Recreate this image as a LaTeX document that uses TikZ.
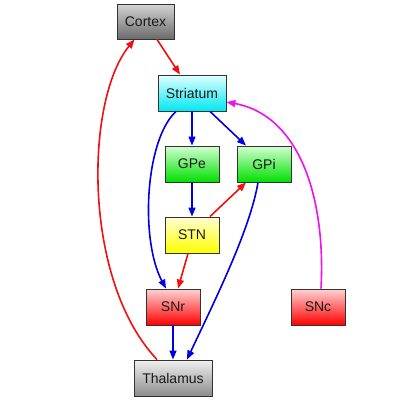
\documentclass[tikz,border=0pt]{standalone}
\usepackage{fontspec}
\setmainfont{Liberation Sans}
\usetikzlibrary{arrows.meta,calc}
\definecolor{edgered}{HTML}{F01010}
\definecolor{edgeblue}{HTML}{0000E0}
\definecolor{edgemag}{HTML}{F010F0}
\definecolor{boxline}{HTML}{333333}
\begin{document}
\begin{tikzpicture}[x=1pt,y=-1pt,
  box/.style={draw=boxline,line width=0.9pt,inner sep=0pt,minimum height=36pt,minimum width=54pt,font=\fontsize{14}{16}\selectfont,text=black!90},
  graybox/.style={box,top color=black!17,bottom color=black!58},
  lgraybox/.style={box,top color=black!6,bottom color=black!45},
  cyanbox/.style={box,top color={rgb,255:red,225;green,255;blue,255},bottom color={rgb,255:red,0;green,232;blue,240}},
  greenbox/.style={box,top color={rgb,255:red,210;green,255;blue,210},bottom color={rgb,255:red,0;green,224;blue,0}},
  yellowbox/.style={box,top color={rgb,255:red,255;green,255;blue,210},bottom color={rgb,255:red,255;green,255;blue,0}},
  redbox/.style={box,top color={rgb,255:red,255;green,210;blue,210},bottom color={rgb,255:red,255;green,0;blue,0}},
  edge/.style={line width=1.6pt,-{Triangle[length=9pt,width=7pt]}},
  redge/.style={edge,draw=edgered},
  bedge/.style={edge,draw=edgeblue},
  medge/.style={edge,draw=edgemag}
]
\useasboundingbox (0,0) rectangle (400,400);
\fill[white] (0,0) rectangle (400,400);
\node[graybox,minimum width=57pt,minimum height=35pt] (cortex) at (145.5,21.5) {Cortex};
\node[cyanbox,minimum width=68pt] (striatum) at (192,93) {Striatum};
\node[greenbox] (gpe) at (192,164) {GPe};
\node[greenbox] (gpi) at (264,164) {GPi};
\node[yellowbox] (stn) at (192,235) {STN};
\node[redbox] (snr) at (173,307) {SNr};
\node[redbox] (snc) at (318,307) {SNc};
\node[lgraybox,minimum width=78pt] (thalamus) at (173,378) {Thalamus};
% straight edges
\draw[redge] ($(cortex.south)+(11.5,0)$) -- ($(striatum.north)+(-12,0)$);
\draw[bedge] (striatum.south) -- (gpe.north);
\draw[bedge] ($(striatum.south)+(18,0)$) -- ($(gpi.north)+(-18,0)$);
\draw[bedge] (gpe.south) -- (stn.north);
\draw[redge] ($(stn.north)+(18,0)$) -- ($(gpi.south)+(-18,0)$);
\draw[redge] ($(stn.south)+(-4,0)$) -- ($(snr.north)+(5,0)$);
\draw[bedge] (snr.south) -- (thalamus.north);
% curved edges
\draw[redge] ($(thalamus.north)+(-16,0)$) .. controls (82,280) and (85,100) .. ($(cortex.south)+(-11,0)$);
\draw[bedge] ($(striatum.south)+(-16,0)$) .. controls (145,140) and (140,240) .. ($(snr.north)+(-7,0)$);
\draw[bedge] ($(gpi.south)+(-6,0)$) .. controls (250,230) and (215,300) .. ($(thalamus.north)+(14,0)$);
\draw[medge] ($(snc.north)+(3,0)$) .. controls (326,195) and (298,115) .. ($(striatum.east)+(0,9)$);
\end{tikzpicture}
\end{document}
